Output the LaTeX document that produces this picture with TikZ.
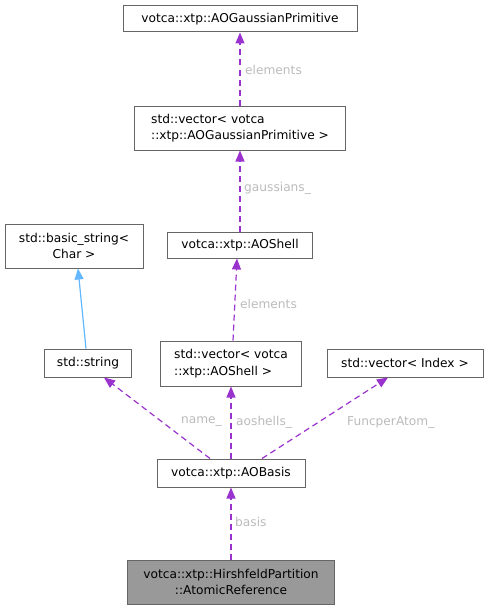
\documentclass[tikz,border=0pt]{standalone}
\usepackage{fontspec}
\setmainfont{DejaVu Sans}
\usetikzlibrary{arrows.meta}
\definecolor{edgepurple}{HTML}{9A32CD}
\definecolor{edgeblue}{HTML}{63B8FF}
\definecolor{boxborder}{HTML}{666666}
\definecolor{lblgray}{HTML}{BBBBBB}
\definecolor{mainfill}{HTML}{999999}
\tikzset{
  cls/.style={draw=boxborder, line width=1pt, fill=white, inner sep=0pt, font=\fontsize{12.2}{16.5}\selectfont, text=black},
  mainnode/.style={cls, fill=mainfill},
  member/.style={draw=edgepurple, line width=1.2pt, dash pattern=on 6pt off 4pt, -{Triangle[length=11pt,width=9pt]}},
  inherit/.style={draw=edgeblue, line width=1.2pt, -{Triangle[length=11pt,width=9pt]}},
  lbl/.style={text=lblgray, font=\fontsize{12.2}{15}\selectfont, inner sep=0pt}
}
\begin{document}
\begin{tikzpicture}[x=1pt,y=-1pt]
\useasboundingbox (0,0) rectangle (489,610);
\node[cls, minimum width=234pt, minimum height=26pt] (gp) at (240,19) {votca::xtp::AOGaussianPrimitive};
\node[cls, minimum width=211pt, minimum height=44pt, align=left] (vgp) at (240,128) {std::vector< votca\\::xtp::AOGaussianPrimitive >};
\node[cls, minimum width=145pt, minimum height=26pt] (sh) at (240,245) {votca::xtp::AOShell};
\node[cls, minimum width=138pt, minimum height=44pt, align=center] (bs) at (74,246) {std::basic\_string<\\Char >};
\node[cls, minimum width=87pt, minimum height=28pt] (str) at (88,363) {std::string};
\node[cls, minimum width=141pt, minimum height=45pt, align=left] (vsh) at (231,363.5) {std::vector< votca\\::xtp::AOShell >};
\node[cls, minimum width=156pt, minimum height=28pt] (vidx) at (405,363) {std::vector< Index >};
\node[cls, minimum width=148pt, minimum height=28pt] (aob) at (231,473) {votca::xtp::AOBasis};
\node[mainnode, minimum width=207pt, minimum height=44pt, align=center] (ar) at (231,582) {votca::xtp::HirshfeldPartition\\::AtomicReference};

\draw[member] (vgp.north -| gp.south) -- (gp.south);
\draw[member] (sh.north) -- (vgp.south);
\draw[member] ([xshift=2pt]vsh.north) -- ([xshift=-3pt]sh.south);
\draw[inherit] ([xshift=-2pt]str.north) -- ([xshift=4pt]bs.south);
\draw[member] ([xshift=-21pt]aob.north) -- ([xshift=16pt]str.south);
\draw[member] (aob.north) -- (vsh.south);
\draw[member] ([xshift=31pt]aob.north) -- ([xshift=-17pt]vidx.south);
\draw[member] (ar.north) -- (aob.south);

\node[lbl, anchor=west] (l1) at (245,70) {elements};
\node[lbl, anchor=west] (l2) at (244,188) {gaussians\_};
\node[lbl, anchor=west] (l3) at (240,304) {elements};
\node[lbl, anchor=east] (l4) at (222,422) {name\_};
\node[lbl, anchor=west] (l5) at (236,422) {aoshells\_};
\node[lbl, anchor=west] (l6) at (347,422) {FuncperAtom\_};
\node[lbl, anchor=west] (l7) at (235,522) {basis};
\end{tikzpicture}
\end{document}
